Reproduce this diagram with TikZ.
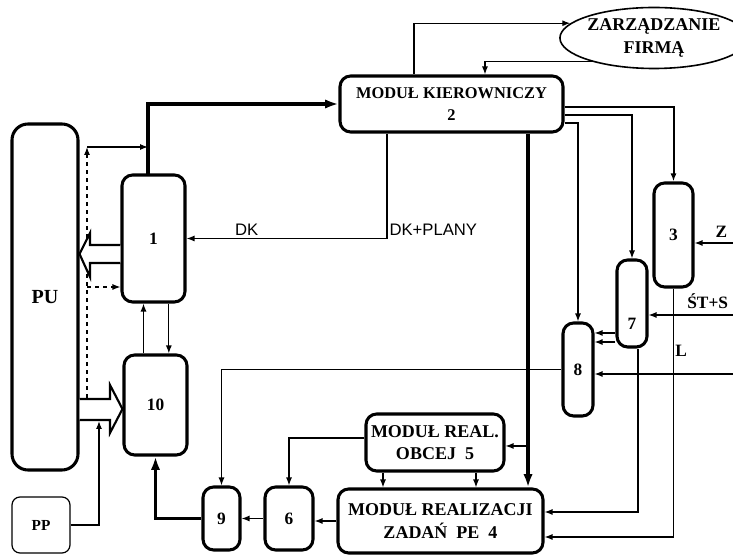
\documentclass[tikz,border=0pt]{standalone}
\usepackage{fontspec}
\setmainfont{Liberation Serif}
\newfontfamily\lsans{Liberation Sans}
\usetikzlibrary{positioning,arrows.meta,shapes,calc}

\begin{document}
\begin{tikzpicture}[x=0.75pt,y=-0.75pt,
    blk/.style={draw, line width=2.3pt, rounded corners=8pt, inner sep=0pt, font=\fontsize{13}{15}\bfseries\selectfont},
    big/.style={blk, align=center, font=\fontsize{13.5}{17}\bfseries\selectfont},
    ln/.style={line width=0.9pt, -{Latex[length=6pt,width=4.5pt]}},
    tk/.style={line width=2.3pt, -{Latex[length=10pt,width=7pt]}},
    hol/.style={line width=1.6pt, fill=white},
    lab/.style={font=\fontsize{13}{15}\bfseries\selectfont, inner sep=1pt},
    dk/.style={font=\lsans\fontsize{12.5}{14}\selectfont, inner sep=1.5pt}]
    \useasboundingbox (0,0) rectangle (733,555);

    % blocks
    \node[blk, minimum width=49.5pt, minimum height=259.5pt, rounded corners=12pt, font=\fontsize{15}{17}\bfseries\selectfont] (pu) at (45,297) {PU};
    \node[blk, minimum width=47.25pt, minimum height=95.25pt] (b1) at (153.5,238.5) {1};
    \node[blk, minimum width=47.25pt, minimum height=75pt] (b10) at (155.5,405) {10};
    \node[draw, line width=0.9pt, rounded corners=6pt, minimum width=43.5pt, minimum height=42pt, font=\fontsize{11.5}{13}\bfseries\selectfont] (pp) at (41,525) {PP};
    \node[blk, align=center, minimum width=167.25pt, minimum height=42pt, font=\fontsize{12.3}{17}\bfseries\selectfont] (m2) at (451.5,104) {MODUŁ KIEROWNICZY\\2};
    \node[draw, ellipse, line width=1.2pt, inner sep=0pt, minimum width=114pt, minimum height=45.75pt, align=center, font=\fontsize{13.5}{17}\bfseries\selectfont] (zf) at (654,38) {ZARZĄDZANIE\\FIRMĄ};
    \node[blk, minimum width=29.25pt, minimum height=78pt] (b3) at (673.5,235) {3};
    \node[blk, minimum width=22.5pt, minimum height=65.25pt] (b7) at (632,303.5) {};
    \node[lab] (t7) at (632,324) {7};
    \node[blk, minimum width=22.5pt, minimum height=69.75pt] (b8) at (578,369.5) {8};
    \node[big, minimum width=103.5pt, minimum height=42.75pt] (m5) at (435,442.5) {MODUŁ REAL.\\OBCEJ\ \ 5};
    \node[big, minimum width=153.75pt, minimum height=48pt] (m4) at (440.5,521) {MODUŁ REALIZACJI\\ZADAŃ\ \ PE\ \ 4};
    \node[blk, minimum width=36pt, minimum height=47.25pt] (b6) at (289,518.5) {6};
    \node[blk, minimum width=27.75pt, minimum height=47.25pt] (b9) at (221.5,518.5) {9};

    % free ends
    \coordinate (b1t) at (148,175);
    \coordinate (dbot) at (87,398);
    \coordinate (dtop) at (87,147);
    \coordinate (dmid) at (87,287);
    \coordinate (ppin) at (99,421);
    \coordinate (zin) at (733,243);
    \coordinate (stin) at (733,315);
    \coordinate (r8) at (733,374);
    \coordinate (t2) at ([xshift=57.4pt]m2.south);
    \coordinate (s71) at ([yshift=-22.1pt]b7.west);
    \coordinate (s72) at ([yshift=-28.9pt]b7.west);
    \coordinate (s7) at ([xshift=4.5pt]b7.south);
    \coordinate (e4) at ([yshift=6.75pt]m4.east);
    \coordinate (l4) at ([yshift=-12pt]m4.east);
    \coordinate (a5) at ([xshift=-39pt]m5.south);
    \coordinate (c5) at ([xshift=30.75pt]m5.south);
    \coordinate (r5) at ([yshift=-2.6pt]m5.east);

    % PU side
    \draw[tk] (b1t) |- (m2.west);
    \draw[ln, dashed] (dbot) -- (dtop);
    \draw[ln] (dtop) -- (dtop -| b1t);
    \draw[ln, dashed] (dmid) -- (dmid -| b1.west);
    \draw[hol] (b1.west |- 0,245) -- (90,245) -- (90,233) -- (pu.east |- 0,254) -- (90,277) -- (90,263) -- (b1.west |- 0,263);
    \draw[hol] (pu.east |- 0,399) -- (110,399) -- (110,385) -- (b10.west |- 0,409) -- (110,433) -- (110,420) -- (pu.east |- 0,420);
    \draw[ln] (pp.east) -| (ppin);
    \draw[ln] ([xshift=-9pt]b10.north) -- ([xshift=-9pt]b10.north |- b1.south);
    \draw[ln] ([xshift=10pt]b10.north |- b1.south) -- ([xshift=10pt]b10.north);

    % module 2
    \draw[ln] ([xshift=-48.4pt]m2.south) |- (b1.east)
        node[dk, pos=0.5, above right] (ldkp) {DK+PLANY}
        node[dk, pos=0.85, above] (ldk) {DK};
    \draw[ln] ([xshift=-28.1pt]m2.north) |- (zf.170);
    \draw[ln] (zf.201) -| ([xshift=25.1pt]m2.north);
    \draw[tk, line width=2.8pt] (t2) -- (t2 |- m4.north);
    \draw[ln, line width=1.5pt] ([yshift=-2.25pt]m2.east) -| (b3.north);
    \draw[ln] ([yshift=-8.25pt]m2.east) -| (b7.north);
    \draw[ln] ([yshift=-14.25pt]m2.east) -| (b8.north);

    % right side
    \draw[ln] (zin) -- (zin -| b3.east) node[lab, pos=0.3, above, yshift=3pt] (lz) {Z};
    \draw[ln] (stin) -- (stin -| b7.east) node[lab, pos=0.3, above, yshift=3pt] (lst) {ŚT+S};
    \draw[ln] (s71) -- (s71 -| b8.east);
    \draw[ln] (s72) -- (s72 -| b8.east);
    \draw[ln] (b3.south) |- (l4) node[lab, pos=0.126, right] (ll) {L};
    \draw[ln] (r8) -- (r8 -| b8.east);
    \draw[ln] (s7) |- (e4);
    \draw[ln] (b8.west) -| (b9.north);

    % bottom row
    \draw[ln] ([yshift=3.4pt]m5.west) -| (b6.north);
    \draw[ln] (a5) -- (a5 |- m4.north);
    \draw[ln] (c5) -- (c5 |- m4.north);
    \draw[ln] (r5 -| t2) -- (r5);
    \draw[ln] (m4.west) -- (m4.west -| b6.east);
    \draw[ln] (b6.west) -- (b9.east);
    \draw[tk] (b9.west) -| (b10.south);
\end{tikzpicture}
\end{document}
